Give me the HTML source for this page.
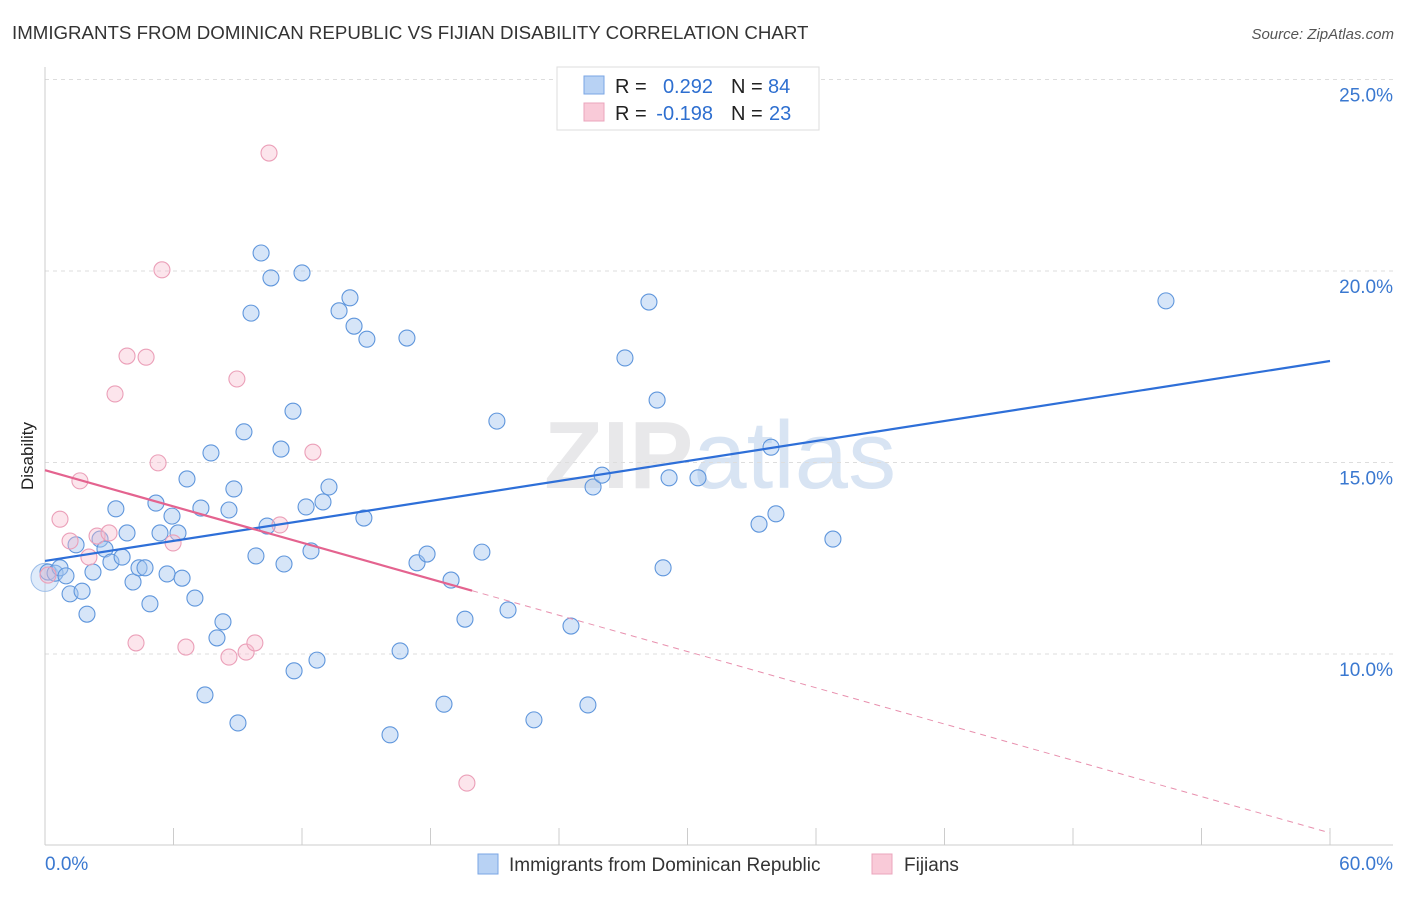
<!DOCTYPE html>
<html><head><meta charset="utf-8"><style>
body{margin:0;background:#fff;font-family:"Liberation Sans",sans-serif}
svg text{font-family:"Liberation Sans",sans-serif}
</style></head><body>
<svg id="chart" width="1406" height="892" xmlns="http://www.w3.org/2000/svg">
<text x="12" y="39" font-size="18.7" fill="#333">IMMIGRANTS FROM DOMINICAN REPUBLIC VS FIJIAN DISABILITY CORRELATION CHART</text>
<text x="1394" y="39" font-size="15" fill="#555" font-style="italic" text-anchor="end">Source: ZipAtlas.com</text>
<text x="720" y="488" font-size="96" fill="#e8e8ea" text-anchor="middle" font-family="Liberation Serif" font-weight="bold">ZIP<tspan fill="#d8e4f3" font-family="Liberation Sans" font-weight="normal">atlas</tspan></text>
<text transform="translate(33,456) rotate(-90)" font-size="17" fill="#222" text-anchor="middle">Disability</text>
<g id="grid"></g><g id="marks"></g>
<g>
<rect x="557" y="67" width="262" height="63" fill="#fff" stroke="#ddd"/>
<rect x="584" y="76" width="20" height="18" fill="#b8d2f4" stroke="#7aa6e4"/>
<rect x="584" y="103" width="20" height="18" fill="#f9cad8" stroke="#eba5bc"/>
<text x="615" y="93" font-size="20" fill="#222">R =</text>
<text x="713" y="93" font-size="20" fill="#2e6fd0" text-anchor="end">0.292</text>
<text x="731" y="93" font-size="20" fill="#222">N =</text>
<text x="768" y="93" font-size="20" fill="#2e6fd0">84</text>
<text x="615" y="120" font-size="20" fill="#222">R =</text>
<text x="713" y="120" font-size="20" fill="#2e6fd0" text-anchor="end">-0.198</text>
<text x="731" y="120" font-size="20" fill="#222">N =</text>
<text x="769" y="120" font-size="20" fill="#2e6fd0">23</text>
</g>
<g>
<rect x="478" y="854" width="20" height="20" fill="#b8d2f4" stroke="#7aa6e4"/>
<text x="509" y="871" font-size="19" fill="#333">Immigrants from Dominican Republic</text>
<rect x="872" y="854" width="20" height="20" fill="#f9cad8" stroke="#eba5bc"/>
<text x="904" y="871" font-size="19" fill="#333">Fijians</text>
</g>
</svg>
<script>
const yTicks=[10,15,20,25];
const yTickLabels=["10.0%","15.0%","20.0%","25.0%"];
const xLabels=["0.0%","60.0%"];
const blueX=[0.14,0.47,0.70,0.98,1.17,1.73,1.96,1.45,2.24,2.57,2.80,3.08,3.31,3.60,3.83,4.11,4.39,4.67,4.90,5.18,5.37,5.70,5.93,6.21,6.40,6.63,7.00,7.28,7.47,7.75,8.03,8.31,8.59,8.82,9.01,9.29,9.62,9.85,10.09,10.37,10.55,11.02,11.16,11.58,11.63,12.00,12.19,12.42,12.70,12.98,13.26,13.73,14.24,14.43,14.89,15.03,16.11,16.58,16.90,17.37,17.84,18.63,18.96,19.61,20.40,21.10,21.62,22.83,24.56,25.35,25.59,26.01,27.08,28.20,28.58,28.86,29.14,30.49,33.34,33.90,34.13,35.39,36.79,52.34];
const blueY=[12.14,12.11,12.25,12.04,11.57,11.64,11.04,12.85,12.14,13.00,12.74,12.40,13.79,12.53,13.16,11.88,12.25,12.25,11.31,13.94,13.16,12.09,13.60,13.16,11.98,14.57,11.46,13.81,8.93,15.25,10.42,10.84,13.76,14.31,8.20,15.80,18.90,12.56,20.47,13.34,19.82,15.35,12.35,16.34,9.56,19.95,13.84,12.69,9.84,13.97,14.36,18.96,19.30,18.56,13.55,18.22,7.89,10.08,18.25,12.38,12.61,8.69,11.93,10.91,12.66,16.08,11.15,8.28,10.73,8.67,14.36,14.67,17.73,19.19,16.63,12.25,14.60,14.60,13.39,15.40,13.66,24.26,13.00,19.22];
const pinkX=[0.14,0.70,1.17,1.63,2.05,2.43,2.99,3.27,3.83,4.25,4.72,5.28,5.46,5.98,6.58,8.59,8.96,9.39,9.80,10.46,10.97,12.51,19.70];
const pinkY=[12.06,13.52,12.95,14.52,12.53,13.08,13.16,16.79,17.78,10.29,17.75,14.99,20.03,12.90,10.18,9.92,17.18,10.05,10.29,23.08,13.37,15.27,6.63];
const blueTrend=[12.43,17.65];
const pinkTrend=[14.80,5.33];
const pinkSolidEnd=19.94;
const NS="http://www.w3.org/2000/svg";
const xs=v=>45+v*(1285/60);
const ys=v=>654-(v-10)*38.3;
function mk(t,a,p){const e=document.createElementNS(NS,t);for(const k in a)e.setAttribute(k,a[k]);p.appendChild(e);return e;}
const grid=document.getElementById('grid'),marks=document.getElementById('marks');
yTicks.forEach((v,i)=>{
  const l=mk('line',{x1:45,x2:1393,y1:ys(v),y2:ys(v),stroke:'#ddd','stroke-dasharray':'4,4'},grid);
  
  
  const t=mk('text',{x:1393,y:ys(v)+22,'font-size':19,fill:'#3a78d0','text-anchor':'end'},grid);
  t.textContent=yTickLabels[i];
  
  
});
mk('line',{x1:45,x2:45,y1:67,y2:845,stroke:'#ccc'},grid);
mk('line',{x1:45,x2:1393,y1:845,y2:845,stroke:'#ccc'},grid);
for(let i=0;i<=10;i++){const x=xs(i*6);const l=mk('line',{x1:x,x2:x,y1:828,y2:845,stroke:'#ccc'},grid);
  
  }
[[0,45,'start'],[60,1393,'end']].forEach((d,i)=>{const t=mk('text',{x:d[1],y:870,'font-size':19,fill:'#3a78d0','text-anchor':d[2]},grid);t.textContent=xLabels[i];
  
  });
const big=mk('circle',{cx:xs(0),cy:ys(12.0),r:14,fill:'rgba(164,198,240,0.35)',stroke:'#9cbde8'},marks);


blueX.forEach((x,i)=>{const c=mk('circle',{cx:xs(x),cy:ys(blueY[i]),r:8,fill:'rgba(164,198,240,0.45)',stroke:'#5f96dc','stroke-width':1.1},marks);
  
  });
pinkX.forEach((x,i)=>{const c=mk('circle',{cx:xs(x),cy:ys(pinkY[i]),r:8,fill:'rgba(248,190,208,0.4)',stroke:'#eb9fb8','stroke-width':1.1},marks);
  
  });
const bl=mk('line',{x1:xs(0),y1:ys(blueTrend[0]),x2:xs(60),y2:ys(blueTrend[1]),stroke:'#2e6fd8','stroke-width':2.2},marks);


const pv=x=>pinkTrend[0]+(pinkTrend[1]-pinkTrend[0])*x/60;
const pl=mk('line',{x1:xs(0),y1:ys(pv(0)),x2:xs(pinkSolidEnd),y2:ys(pv(pinkSolidEnd)),stroke:'#e4638f','stroke-width':2.2},marks);


const pd=mk('line',{x1:xs(pinkSolidEnd),y1:ys(pv(pinkSolidEnd)),x2:xs(60),y2:ys(pv(60)),stroke:'#e890ae','stroke-width':1,'stroke-dasharray':'6,5'},marks);


</script>
</body></html>
